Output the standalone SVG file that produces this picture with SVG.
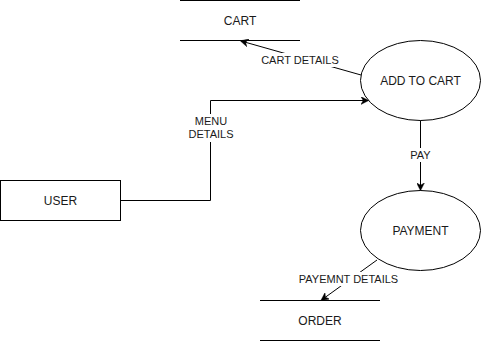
<svg xmlns="http://www.w3.org/2000/svg" width="481" height="341" viewBox="0 0 481 341">
  <style>
    .shape { fill: #ffffff; stroke: #000000; stroke-width: 1; }
    .store { stroke: #000000; stroke-width: 1; fill: none; }
    .edge { fill: none; stroke: #000000; stroke-width: 1; }
    .lbl-bg { fill: #ffffff; }
    text { font-family: "Liberation Sans", Arial, sans-serif; font-size: 12px; fill: #1a1a1a; text-anchor: middle; dominant-baseline: central; }
    text.elbl { font-size: 11px; }
  </style>
  <defs>
    <marker id="arrow" viewBox="0 0 10 10" refX="9" refY="5" markerWidth="8" markerHeight="8" markerUnits="userSpaceOnUse" orient="auto">
      <path d="M0,0 L10,5 L0,10 L3,5 Z" fill="#000000" stroke="#000000" stroke-width="0.5"/>
    </marker>
  </defs>
  <rect width="481" height="341" fill="#ffffff"/>

  <!-- data stores -->
  <g id="cart">
    <line class="store" x1="180" y1="0.5" x2="300" y2="0.5"/>
    <line class="store" x1="180" y1="40.5" x2="300" y2="40.5"/>
    <text x="240" y="20.5">CART</text>
  </g>
  <g id="order">
    <line class="store" x1="260" y1="300.5" x2="380" y2="300.5"/>
    <line class="store" x1="260" y1="340.5" x2="380" y2="340.5"/>
    <text x="320" y="320.5">ORDER</text>
  </g>

  <!-- processes and entity -->
  <g id="add-to-cart">
    <ellipse class="shape" cx="420.5" cy="80.5" rx="60" ry="40"/>
    <text x="420.5" y="80.5">ADD TO CART</text>
  </g>
  <g id="payment">
    <ellipse class="shape" cx="420.5" cy="230.5" rx="60" ry="40"/>
    <text x="420.5" y="230.5">PAYMENT</text>
  </g>
  <g id="user">
    <rect class="shape" x="0.5" y="180.5" width="120" height="40"/>
    <text x="60.5" y="200.5">USER</text>
  </g>

  <!-- flows -->
  <g id="connectors">
    <path class="edge" d="M361,75 L241,41" marker-end="url(#arrow)"/>
    <rect class="lbl-bg" x="262" y="53" width="76" height="14"/>
    <text class="elbl" x="300" y="60">CART DETAILS</text>

    <path class="edge" d="M120.5,200.5 L210.5,200.5 L210.5,100.5 L368,100.5" marker-end="url(#arrow)"/>
    <rect class="lbl-bg" x="190" y="114" width="42" height="28"/>
    <text class="elbl" x="211" y="121">MENU</text>
    <text class="elbl" x="211" y="134">DETAILS</text>

    <path class="edge" d="M420.5,120.5 L420.5,190" marker-end="url(#arrow)"/>
    <rect class="lbl-bg" x="409" y="148" width="23" height="14"/>
    <text class="elbl" x="420.5" y="155">PAY</text>

    <path class="edge" d="M377,260 L321.5,300" marker-end="url(#arrow)"/>
    <rect class="lbl-bg" x="299" y="272" width="99" height="14"/>
    <text class="elbl" x="348.5" y="279">PAYEMNT DETAILS</text>
  </g>
</svg>
